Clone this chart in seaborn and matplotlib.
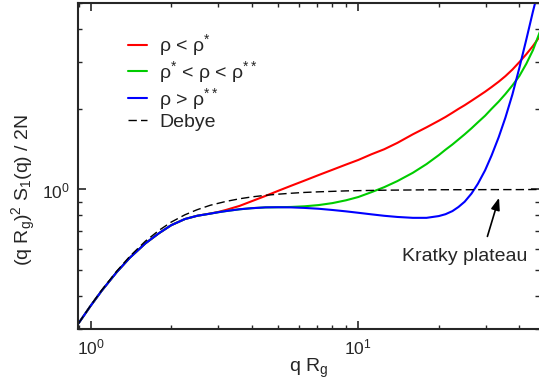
import numpy as np
import pandas as pd
import matplotlib
matplotlib.use('Agg')
import matplotlib.pyplot as plt
import matplotlib.ticker as mticker
import seaborn as sns

# values
q_rg = [0.9, 1.0, 1.1, 1.25, 1.4, 1.6, 1.8, 2.0, 2.25, 2.5, 2.8, 3.0, 3.2, 3.6, 4.0, 4.5,
        5.0, 5.6, 6.3, 7.1, 8.0, 9.0, 10, 11.2, 12.5, 14, 16, 18, 20, 21.2, 22.5, 23.7,
        25, 26.5, 28, 29.8, 31.5, 33.5, 35.5, 37.7, 40, 42.5, 45, 48]

low_rho = [0.315, 0.367, 0.418, 0.49, 0.555, 0.628, 0.686, 0.735, 0.775, 0.797, 0.813,
           0.824, 0.838, 0.868, 0.904, 0.946, 0.987, 1.032, 1.080, 1.132, 1.185, 1.24,
           1.29, 1.355, 1.415, 1.495, 1.61, 1.71, 1.81, 1.87, 1.94, 2.005, 2.07, 2.15,
           2.23, 2.325, 2.42, 2.535, 2.66, 2.815, 3.0, 3.215, 3.45, 3.78]

mid_rho = [0.315, 0.367, 0.418, 0.49, 0.555, 0.628, 0.686, 0.735, 0.775, 0.797, 0.812,
           0.822, 0.830, 0.843, 0.851, 0.857, 0.858, 0.860, 0.865, 0.874, 0.889, 0.911,
           0.937, 0.977, 1.02, 1.075, 1.155, 1.245, 1.345, 1.41, 1.475, 1.54, 1.61,
           1.695, 1.785, 1.89, 2.005, 2.135, 2.28, 2.455, 2.66, 2.96, 3.33, 3.95]

high_rho = [0.315, 0.367, 0.418, 0.49, 0.555, 0.628, 0.686, 0.735, 0.775, 0.797, 0.812,
            0.822, 0.830, 0.843, 0.851, 0.857, 0.858, 0.857, 0.853, 0.847, 0.838, 0.828,
            0.818, 0.807, 0.797, 0.789, 0.783, 0.783, 0.795, 0.808, 0.83, 0.86, 0.90,
            0.965, 1.05, 1.18, 1.34, 1.57, 1.86, 2.27, 2.85, 3.65, 4.65, 6.0]

debye_x = [0.9, 1.0, 1.1, 1.25, 1.4, 1.6, 1.8, 2.0, 2.25, 2.5, 2.8, 3.2, 3.6, 4.0, 4.5,
           5.0, 5.6, 6.3, 7.1, 8.0, 9.0, 10, 12.5, 16, 20, 25, 31.5, 40, 48]
debye = [0.315, 0.368, 0.420, 0.494, 0.562, 0.640, 0.703, 0.755, 0.804, 0.840, 0.873,
         0.902, 0.923, 0.938, 0.951, 0.960, 0.968, 0.975, 0.980, 0.984, 0.988, 0.990,
         0.994, 0.996, 0.998, 0.998, 0.999, 0.999, 1.0]

labels = ['ρ < ρ$^{*}$', 'ρ$^{*}$ < ρ < ρ$^{**}$', 'ρ > ρ$^{**}$', 'Debye']

sns.set_style('ticks')
plt.rcParams['font.family'] = ['Liberation Sans', 'DejaVu Sans']
plt.rcParams['mathtext.fontset'] = 'custom'
plt.rcParams['mathtext.rm'] = 'Liberation Sans'
plt.rcParams['mathtext.it'] = 'Liberation Sans:italic'
plt.rcParams['mathtext.default'] = 'regular'

fig = plt.figure(figsize=(5.39, 3.89), dpi=100)
ax = fig.add_axes([78 / 539, 60 / 389, 461 / 539, 326 / 389])

sns.lineplot(x=q_rg, y=low_rho, color='#ff0000', lw=1.5, label=labels[0], ax=ax)
sns.lineplot(x=q_rg, y=mid_rho, color='#00cc00', lw=1.5, label=labels[1], ax=ax)
sns.lineplot(x=q_rg, y=high_rho, color='#0000ff', lw=1.5, label=labels[2], ax=ax)
sns.lineplot(x=debye_x, y=debye, color='black', lw=1.0, label=labels[3], ax=ax)
ax.lines[-1].set_dashes((6, 3))

ax.set_xscale('log')
ax.set_yscale('log')
ax.set_xlim(0.896, 47.4)
ax.set_ylim(0.3, 5.0)

ax.xaxis.set_minor_formatter(mticker.NullFormatter())
ax.yaxis.set_minor_formatter(mticker.NullFormatter())
ax.tick_params(which='both', direction='in', top=True, right=True, labelsize=12.5, pad=6)
ax.tick_params(which='major', length=6, width=1.2)
ax.tick_params(which='minor', length=3, width=1.0)
for s in ax.spines.values():
    s.set_linewidth(1.5)
ax.spines['right'].set_visible(False)

ax.set_xlabel('q R$_g$', fontsize=14)
ax.set_ylabel('(q R$_g$)$^2$ S$_1$(q) / 2N', fontsize=14)
ax.xaxis.set_label_coords(0.5, -0.085)
ax.yaxis.set_label_coords(-0.087, 0.425)

leg = ax.legend(loc='upper left', bbox_to_anchor=(0.108, 0.91), frameon=False, fontsize=14,
                handlelength=1.0, handletextpad=0.6, labelspacing=0.05, borderpad=0,
                borderaxespad=0)
leg.get_lines()[-1].set_dashes((6, 3))

ax.text(25.05, 0.541, 'Kratky plateau', fontsize=14, ha='center', va='baseline')
ax.annotate('', xy=(33.6, 0.931), xytext=(30.4, 0.667),
            arrowprops=dict(arrowstyle='-|>,head_length=0.6,head_width=0.22', color='black',
                            lw=1.2, shrinkA=0, shrinkB=0, mutation_scale=12))

fig.savefig('out.png', dpi=100)
